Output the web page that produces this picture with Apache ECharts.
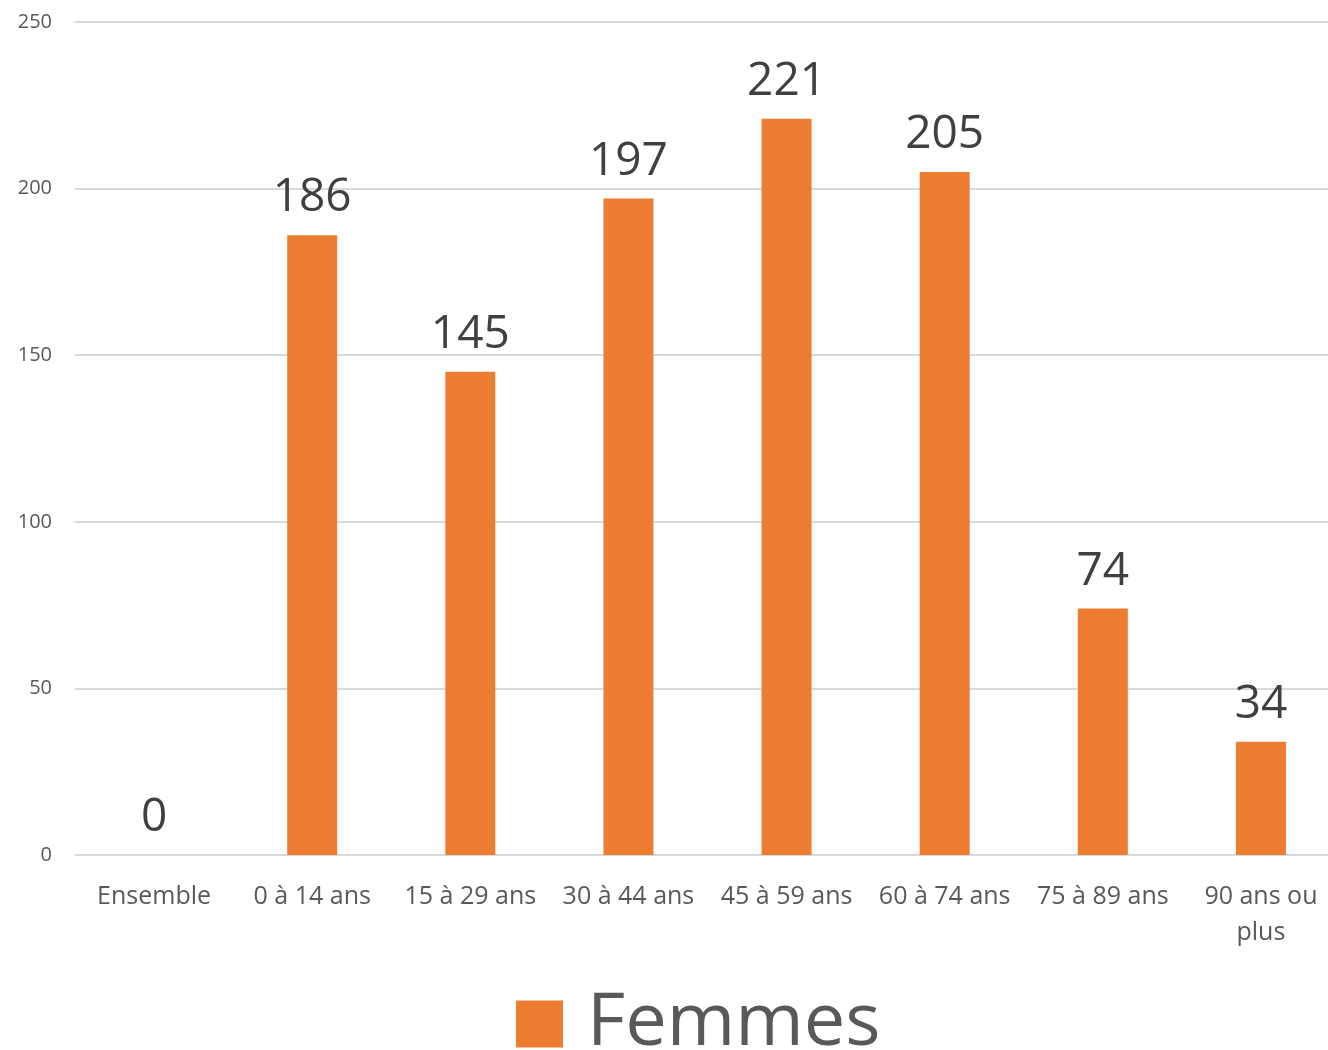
<!DOCTYPE html>
<html>
<head>
<meta charset="utf-8">
<script src="https://cdn.jsdelivr.net/npm/echarts@6/dist/echarts.min.js"></script>
<style>
	html, body { margin: 0; padding: 0; background: #fff; }
	#chart { width: 1328px; height: 1050px; }
</style>
</head>
<body>
<div id="chart"></div>
<script>
// categories and values
var categories = ["Ensemble", "0 à 14 ans", "15 à 29 ans", "30 à 44 ans", "45 à 59 ans", "60 à 74 ans", "75 à 89 ans", "90 ans ou\nplus"];
var femmes = [0, 186, 145, 197, 221, 205, 74, 34];
var seriesName = "Femmes";

var font = "'Open Sans', 'Noto Sans', sans-serif";

var myChart = echarts.init(document.getElementById('chart'));
var option = {
	animation: false,
	textStyle: { fontFamily: font },
	grid: {
		left: 75,
		width: 1265,
		top: 22,
		bottom: 195,
		outerBoundsMode: 'none',
		containLabel: false
	},
	legend: {
		data: [seriesName],
		top: 982,
		left: 511,
		itemWidth: 47,
		itemHeight: 47,
		itemGap: 10,
		icon: 'rect',
		textStyle: {
			fontSize: 74,
			lineHeight: 74,
			color: '#595959',
			fontFamily: font,
			padding: [0, 0, 0, 19]
		}
	},
	xAxis: {
		type: 'category',
		data: categories,
		axisLine: { lineStyle: { color: '#d9d9d9', width: 2 } },
		axisTick: { show: false },
		axisLabel: {
			color: '#595959',
			fontSize: 25,
			margin: 24,
			lineHeight: 36,
			interval: 0
		}
	},
	yAxis: {
		type: 'value',
		min: 0,
		max: 250,
		interval: 50,
		axisLine: { show: false },
		axisTick: { show: false },
		splitLine: { lineStyle: { color: '#d9d9d9', width: 2 } },
		axisLabel: {
			color: '#595959',
			fontSize: 20,
			margin: 23
		}
	},
	series: [{
		name: seriesName,
		type: 'bar',
		data: femmes,
		barWidth: 50,
		itemStyle: { color: '#ed7d31' },
		label: {
			show: true,
			position: 'top',
			distance: 14,
			color: '#404040',
			fontSize: 46,
			fontFamily: font
		}
	}]
};
myChart.setOption(option);
</script>
</body>
</html>
